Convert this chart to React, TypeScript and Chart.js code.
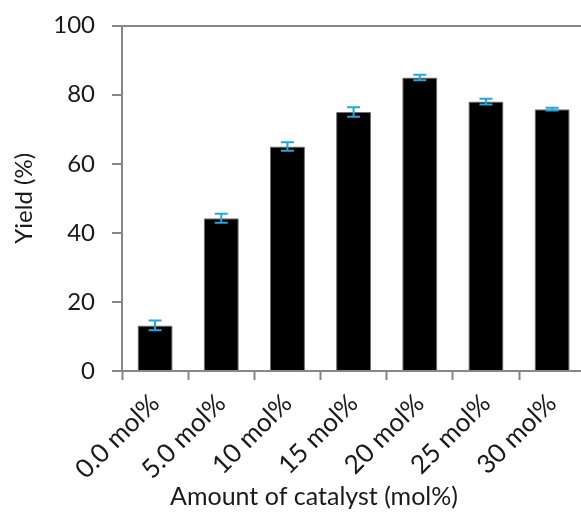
import React, { useEffect, useRef } from "react";
import { Chart, registerables } from "chart.js";

Chart.register(...registerables);

const categories = ["0.0 mol%", "5.0 mol%", "10 mol%", "15 mol%", "20 mol%", "25 mol%", "30 mol%"];
const yieldValues = [13.2, 44.2, 65.0, 75.0, 85.0, 78.0, 75.8];
const yieldErrors = [1.4, 1.3, 1.2, 1.4, 0.8, 0.8, 0.4];
const yTicks = [0, 20, 40, 60, 80, 100];
const xTitle = "Amount of catalyst (mol%)";
const yTitle = "Yield (%)";

const FONT = "Lato";
const TEXT = "#1a1a1a";
const AXIS = "#878787";
const ERR = "#22a6de";

const errorBarPlugin = {
  id: "errorBars",
  afterDatasetsDraw(chart: any) {
    const meta = chart.getDatasetMeta(0);
    const y = chart.scales.y;
    const ctx = chart.ctx;
    ctx.save();
    ctx.strokeStyle = ERR;
    ctx.lineWidth = 2;
    meta.data.forEach((bar: any, i: number) => {
      const v = yieldValues[i];
      const e = yieldErrors[i];
      const top = y.getPixelForValue(v + e);
      const bot = y.getPixelForValue(v - e);
      const x = bar.x;
      const hw = 6.5;
      ctx.beginPath();
      ctx.moveTo(x, top);
      ctx.lineTo(x, bot);
      ctx.moveTo(x - hw, top);
      ctx.lineTo(x + hw, top);
      ctx.moveTo(x - hw, bot);
      ctx.lineTo(x + hw, bot);
      ctx.stroke();
    });
    ctx.restore();
  },
};

const xTitlePlugin = {
  id: "xTitleText",
  afterDraw(chart: any) {
    const ctx = chart.ctx;
    const area = chart.chartArea;
    ctx.save();
    ctx.font = `25px ${FONT}`;
    ctx.fillStyle = TEXT;
    ctx.textAlign = "center";
    ctx.textBaseline = "alphabetic";
    ctx.fillText(xTitle, area.left + 192, area.bottom + 134);
    ctx.restore();
  },
};

export default function App() {
  const ref = useRef<HTMLCanvasElement | null>(null);

  useEffect(() => {
    if (!ref.current) return;
    const chart = new Chart(ref.current, {
      type: "bar",
      data: {
        labels: categories,
        datasets: [
          {
            data: yieldValues,
            backgroundColor: "#000000",
            borderColor: "#6e6e6e",
            borderWidth: 1,
            borderRadius: 1,
            barPercentage: 0.53,
            categoryPercentage: 1,
          },
        ],
      },
      options: {
        responsive: false,
        animation: false,
        layout: { padding: { left: 0, top: 20, right: 14.8, bottom: 0 } },
        plugins: {
          legend: { display: false },
          tooltip: { enabled: false },
        },
        scales: {
          x: {
            offset: true,
            grid: {
              display: true,
              offset: true,
              drawOnChartArea: false,
              drawTicks: true,
              tickLength: 9,
              tickColor: AXIS,
              tickWidth: 2,
            },
            border: { display: true, color: AXIS, width: 2 },
            ticks: {
              autoSkip: false,
              minRotation: 45,
              maxRotation: 45,
              padding: 8,
              color: TEXT,
              font: { family: FONT, size: 26 },
            },
            afterFit: (s: any) => {
              s.height = 142;
            },
          },
          y: {
            min: 0,
            max: 100,
            afterBuildTicks: (s: any) => {
              s.ticks = yTicks.map((v) => ({ value: v }));
            },
            grid: {
              display: true,
              drawOnChartArea: true,
              color: (c: any) => (c.tick && c.tick.value === 100 ? AXIS : "rgba(0,0,0,0)"),
              lineWidth: 2,
              tickLength: 10,
              tickColor: AXIS,
              tickWidth: 2,
            },
            border: { display: true, color: AXIS, width: 2 },
            ticks: {
              padding: 17,
              color: TEXT,
              font: { family: FONT, size: 24, lineHeight: 0.72 },
            },
            title: {
              display: true,
              text: yTitle,
              color: TEXT,
              font: { family: FONT, size: 24 },
              padding: { top: 10, bottom: 0 },
            },
            afterFit: (s: any) => {
              s.width = 122;
            },
          },
        },
      },
      plugins: [errorBarPlugin, xTitlePlugin],
    });
    return () => chart.destroy();
  }, []);

  return (
    <div
      style={{
        position: "fixed",
        left: 0,
        top: 0,
        width: 581,
        height: 513,
        overflow: "hidden",
        background: "#ffffff",
      }}
    >
      <canvas ref={ref} width={600} height={513} style={{ display: "block", width: 600, height: 513 }} />
    </div>
  );
}
